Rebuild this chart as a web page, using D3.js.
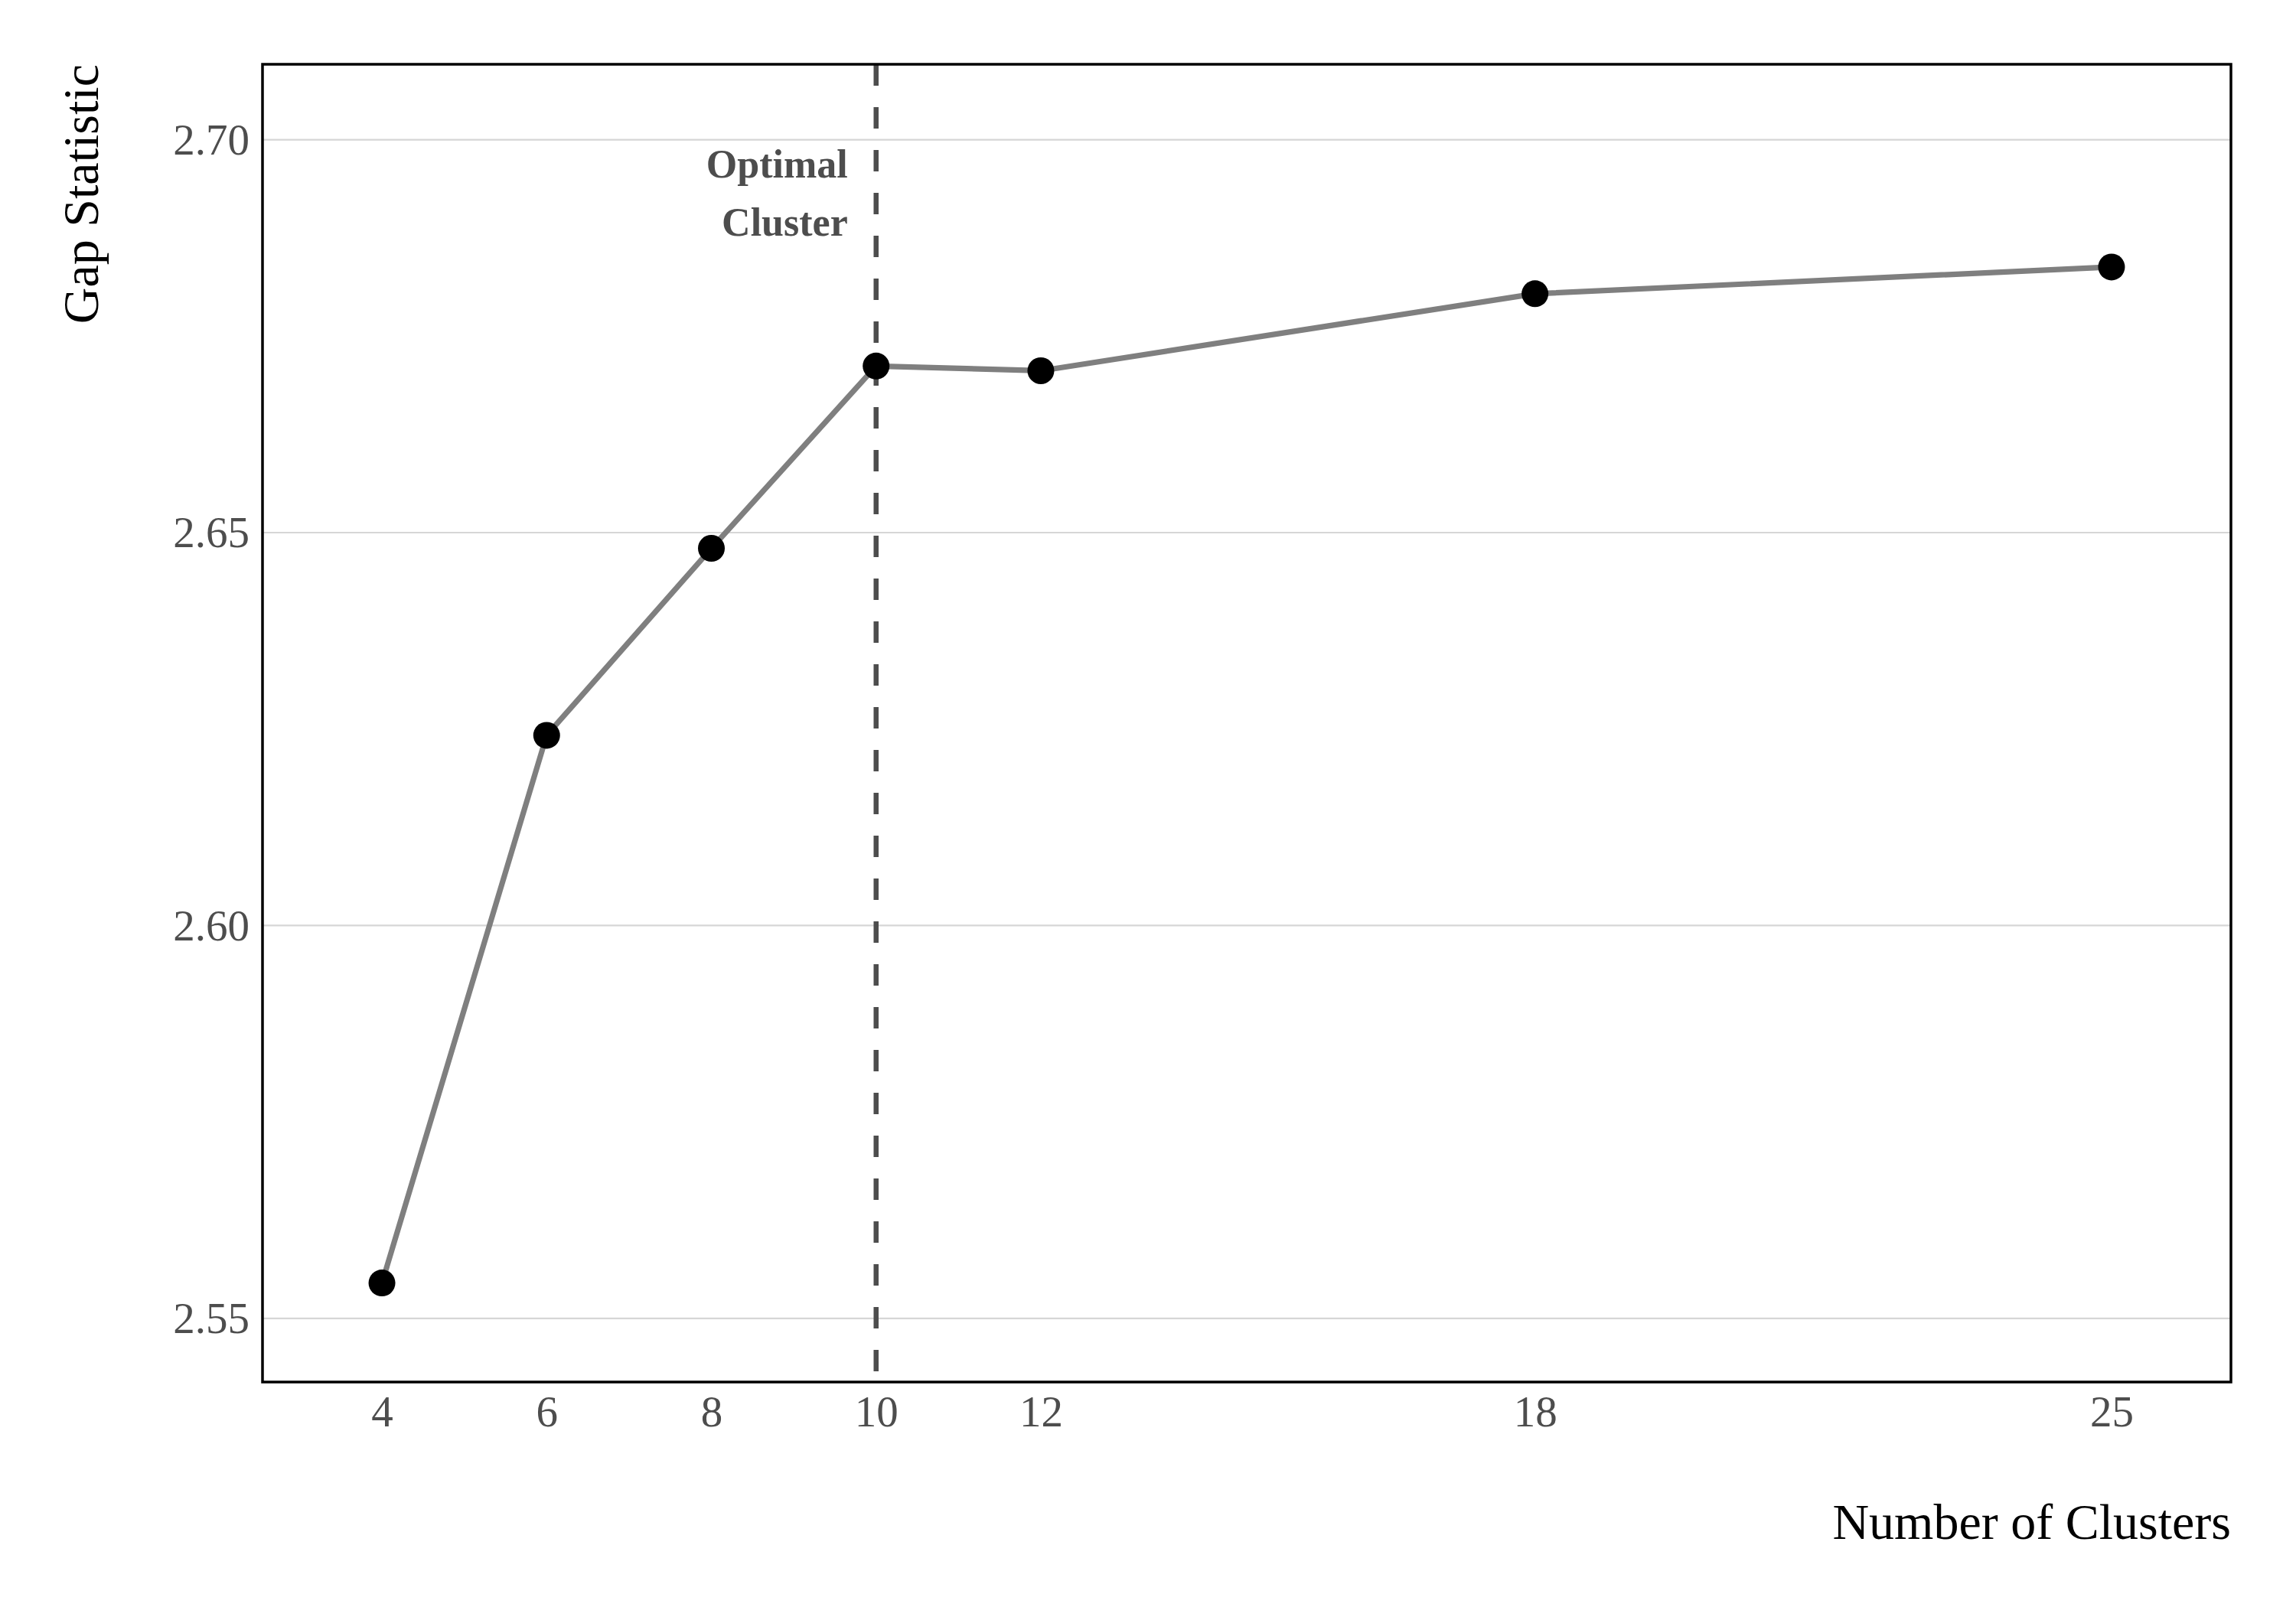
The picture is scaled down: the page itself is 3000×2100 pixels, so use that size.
<!DOCTYPE html>
<html>
<head>
<meta charset="utf-8">
<script src="https://cdn.jsdelivr.net/npm/d3@7"></script>
<style>
    body { margin: 0; background: #fff; }
    text { font-family: "Liberation Serif", "Times New Roman", serif; }
</style>
</head>
<body>
<svg id="chart" width="3000" height="2100"></svg>
<script>
/* data */
var CLUSTERS = [4, 6, 8, 10, 12, 18, 25];
var GAP_VALUES = [2.5545, 2.6242, 2.6480, 2.6712, 2.6706, 2.6804, 2.6838];
var X_TICKS = [4, 6, 8, 10, 12, 18, 25];
var Y_TICKS = [2.55, 2.60, 2.65, 2.70];
var OPTIMAL_K = 10;
var ANNOTATION_LINES = ["Optimal", "Cluster"];

var svg = d3.select("#chart");
var margin = {top: 84, right: 85, bottom: 294, left: 343};
var width = 3000 - margin.left - margin.right;
var height = 2100 - margin.top - margin.bottom;
var g = svg.append("g").attr("transform", "translate(" + margin.left + "," + margin.top + ")");

var x = d3.scaleLinear().domain([2.55, 26.45]).range([0, width]);
var y = d3.scaleLinear().domain([2.5419, 2.7096]).range([height, 0]);

var points = CLUSTERS.map(function (k, i) {
    return {k: k, gap: GAP_VALUES[i]};
});

/* horizontal grid */
g.append("g")
    .selectAll("line")
    .data(Y_TICKS).enter()
    .append("line")
    .attr("x1", 0)
    .attr("x2", width)
    .attr("y1", function (d) { return y(d); })
    .attr("y2", function (d) { return y(d); })
    .attr("stroke", "#d6d6d6")
    .attr("stroke-width", 2.2);

/* axes - labels only, no tick marks */
var xAxis = g.append("g")
    .attr("transform", "translate(0," + height + ")")
    .call(d3.axisBottom(x).tickValues(X_TICKS).tickSize(0).tickPadding(18).tickFormat(d3.format("d")));

var yAxis = g.append("g")
    .call(d3.axisLeft(y).tickValues(Y_TICKS).tickSize(0).tickPadding(17).tickFormat(d3.format(".2f")));

[xAxis, yAxis].forEach(function (axis) {
    axis.select(".domain").remove();
    axis.selectAll("text")
        .attr("fill", "#4d4d4d")
        .style("font-size", "57px")
        .style("font-family", "'Liberation Serif', serif");
});
xAxis.selectAll("text").attr("dy", "0.71em");
yAxis.selectAll("text").attr("dy", "0.33em");

/* optimal cluster marker */
g.append("line")
    .attr("x1", x(OPTIMAL_K))
    .attr("x2", x(OPTIMAL_K))
    .attr("y1", 0)
    .attr("y2", height)
    .attr("stroke", "#4d4d4d")
    .attr("stroke-width", 6.5)
    .attr("stroke-dasharray", "28,28");

var note = g.append("text")
    .attr("x", x(OPTIMAL_K) - 37)
    .attr("y", 148)
    .attr("text-anchor", "end")
    .attr("fill", "#4d4d4d")
    .style("font-size", "52px")
    .style("font-weight", "bold");
ANNOTATION_LINES.forEach(function (line, i) {
    note.append("tspan")
        .attr("x", x(OPTIMAL_K) - 37)
        .attr("dy", i === 0 ? 0 : 76)
        .text(line);
});

/* gap line + points */
var line = d3.line()
    .x(function (d) { return x(d.k); })
    .y(function (d) { return y(d.gap); });

g.append("path")
    .datum(points)
    .attr("d", line)
    .attr("fill", "none")
    .attr("stroke", "#7f7f7f")
    .attr("stroke-width", 7.2)
    .attr("stroke-linejoin", "round");

g.selectAll(".pt")
    .data(points).enter()
    .append("circle")
    .classed("pt", true)
    .attr("cx", function (d) { return x(d.k); })
    .attr("cy", function (d) { return y(d.gap); })
    .attr("r", 17.5)
    .attr("fill", "#000");

/* panel border */
g.append("rect")
    .attr("x", 0)
    .attr("y", 0)
    .attr("width", width)
    .attr("height", height)
    .attr("fill", "none")
    .attr("stroke", "#000")
    .attr("stroke-width", 3.5);

/* axis titles */
svg.append("text")
    .attr("x", margin.left + width)
    .attr("y", 2011)
    .attr("text-anchor", "end")
    .attr("fill", "#000")
    .style("font-size", "66px")
    .text("Number of Clusters");

svg.append("text")
    .attr("transform", "translate(128," + margin.top + ") rotate(-90)")
    .attr("text-anchor", "end")
    .attr("fill", "#000")
    .style("font-size", "66px")
    .text("Gap Statistic");
</script>
</body>
</html>
